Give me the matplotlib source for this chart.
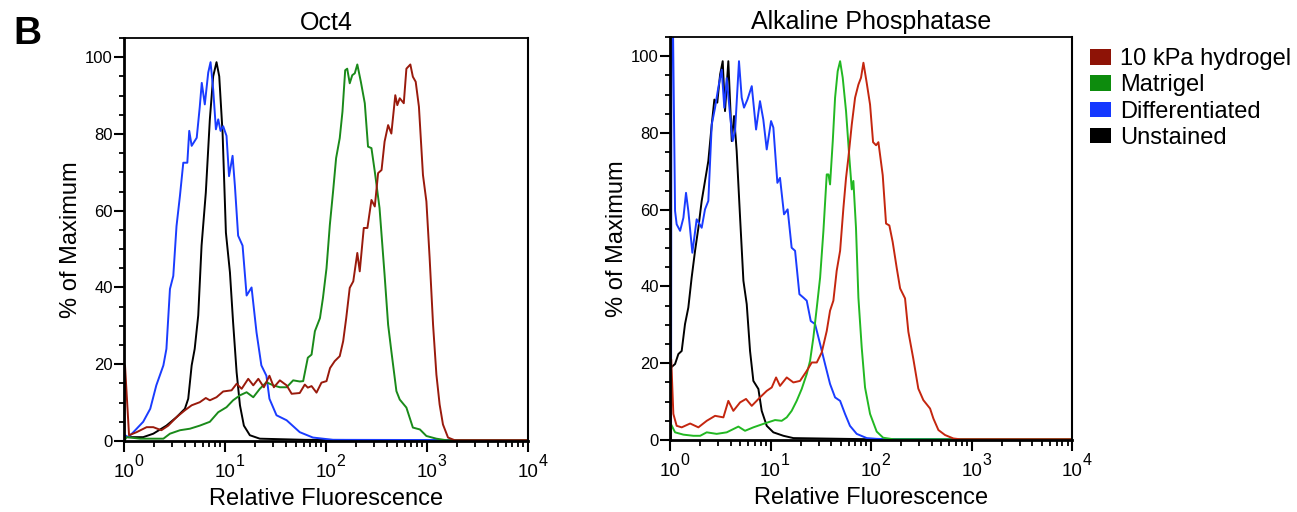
import numpy as np
import matplotlib
matplotlib.use('Agg')
import matplotlib.pyplot as plt
from matplotlib.patches import Patch
from matplotlib.ticker import MultipleLocator, NullFormatter

plt.rcParams['font.family'] = ['Liberation Sans', 'DejaVu Sans']

# histogram traces: x as log10(fluorescence), y as % of max
oct4_red_logx = [0.0, 0.01, 0.05, 0.125, 0.224, 0.29, 0.37, 0.438, 0.52, 0.603, 0.67, 0.75, 0.81, 0.85,
                 0.916, 0.982, 1.065, 1.115, 1.165, 1.23, 1.28, 1.33, 1.385, 1.44, 1.484, 1.543, 1.61,
                 1.66, 1.74, 1.79, 1.82, 1.857, 1.906, 1.955, 2.005, 2.04, 2.086, 2.136, 2.17, 2.2, 2.235,
                 2.27, 2.31, 2.334, 2.374, 2.41, 2.45, 2.483, 2.516, 2.55, 2.58, 2.615, 2.647, 2.686,
                 2.706, 2.73, 2.77, 2.796, 2.835, 2.86, 2.888, 2.92, 2.96, 2.994, 3.026, 3.06, 3.093,
                 3.125, 3.158, 3.208, 3.274, 4.0]
oct4_red_y = [0, 19.7, 1.5, 2.3, 3.6, 3.6, 2.8, 4, 6.2, 8, 9.3, 10.1, 11.2, 10.6,
              11.4, 12.9, 13.2, 14.9, 13.6, 16.2, 14.5, 16.2, 14, 17, 14, 15.8, 14.5,
              12.3, 12.5, 14.7, 13.9, 14.3, 12.6, 15.2, 15.6, 19, 20.8, 22.1, 26, 32, 39.9,
              41.6, 49, 44.2, 55.5, 55.5, 62.8, 61.1, 69.8, 70.6, 78, 82.3, 80.1, 90.1,
              87.5, 89.3, 88, 97, 98.1, 94.9, 93.6, 87.1, 69.3, 62.4, 47.7, 30.3, 17.3,
              9.5, 4.3, 0.9, 0.2, 0.2]

oct4_green_logx = [0.0, 0.027, 0.16, 0.39, 0.455, 0.554, 0.653, 0.75, 0.85, 0.933, 1.015, 1.08, 1.148,
                   1.214, 1.28, 1.345, 1.41, 1.477, 1.543, 1.61, 1.675, 1.741, 1.774, 1.82, 1.857, 1.89,
                   1.94, 1.97, 2.005, 2.038, 2.07, 2.1, 2.136, 2.163, 2.19, 2.21, 2.235, 2.26, 2.285,
                   2.31, 2.345, 2.384, 2.416, 2.45, 2.483, 2.53, 2.58, 2.615, 2.647, 2.697, 2.73, 2.796,
                   2.86, 2.93, 2.994, 3.093, 3.19, 4.0]
oct4_green_y = [0, 1, 0.6, 0.6, 1.9, 2.8, 3.2, 4, 5, 7.5, 8.8, 10.6, 11.9,
                12.7, 11.4, 13.6, 15.3, 14.5, 14, 14, 15.8, 15.5, 15.6, 21.7, 22.5, 28.6,
                32, 37.3, 45, 56.3, 65, 73.7, 78.9, 85.8, 96.6, 97, 93.2, 95.3, 95.8,
                98.1, 93.6, 88, 76.7, 76.3, 70.2, 60.7, 43.3, 30.3, 23.4, 13, 10.8, 8.7,
                3.5, 3, 1.3, 0.6, 0.2, 0.2]

oct4_blue_logx = [0.01, 0.043, 0.093, 0.19, 0.26, 0.32, 0.39, 0.42, 0.455, 0.488, 0.52, 0.554, 0.587,
                  0.627, 0.646, 0.67, 0.72, 0.75, 0.77, 0.80, 0.834, 0.857, 0.883, 0.91, 0.933, 0.956,
                  0.982, 1.015, 1.04, 1.075, 1.098, 1.13, 1.174, 1.214, 1.263, 1.312, 1.36, 1.41, 1.44,
                  1.51, 1.61, 1.74, 1.87, 2.07, 4.0]
oct4_blue_y = [1.5, 1, 2.3, 5, 8.4, 14.5, 19.7, 24, 39.6, 43, 56, 63.9, 72.5,
               72.5, 80.8, 76.9, 79, 87, 93.3, 87.7, 96, 98.7, 91.6, 81.2, 83.8, 80.8,
               82, 79.5, 69, 74.3, 66.5, 53.5, 50.9, 37.9, 40, 28.3, 19.7, 17, 11,
               6.7, 5.4, 2.3, 0.9, 0.3, 0.2]

oct4_black_logx = [0.01, 0.19, 0.29, 0.42, 0.52, 0.603, 0.636, 0.67, 0.70, 0.735, 0.768, 0.81, 0.85,
                   0.883, 0.916, 0.943, 0.976, 1.009, 1.049, 1.08, 1.115, 1.148, 1.187, 1.246, 1.345,
                   1.8, 4.0]
oct4_black_y = [1, 1, 1.9, 4, 6.2, 8.4, 11, 19.7, 24, 32.7, 50.9, 64.7, 83.8,
                95, 98.7, 95, 80.3, 54.3, 43.9, 31, 17.9, 9.3, 4, 1.5, 0.6,
                0.3, 0.1]

ap_red_logx = [0.005, 0.012, 0.033, 0.066, 0.116, 0.2, 0.282, 0.365, 0.448, 0.531, 0.58, 0.63, 0.697,
               0.756, 0.813, 0.895, 0.962, 1.012, 1.055, 1.094, 1.161, 1.227, 1.293, 1.36, 1.41, 1.46,
               1.509, 1.559, 1.592, 1.625, 1.658, 1.692, 1.725, 1.751, 1.774, 1.808, 1.841, 1.874, 1.9,
               1.924, 1.957, 1.99, 2.02, 2.05, 2.073, 2.116, 2.149, 2.182, 2.215, 2.256, 2.289, 2.338,
               2.371, 2.42, 2.47, 2.52, 2.587, 2.62, 2.67, 2.736, 2.819, 2.885, 4.0]
ap_red_y = [0, 21, 6.8, 3.7, 3.3, 4.3, 3.3, 5, 6.3, 5.9, 10.2, 7.6, 9.8,
            10.7, 8.9, 11.1, 12.8, 13.7, 16.3, 14.1, 16.3, 15, 15.4, 18, 20.2, 20.2,
            22.8, 28.4, 33.7, 36.3, 44.1, 49.3, 60.5, 68.3, 73.5, 82.2, 89.2, 92.6, 94.4,
            98.3, 93, 87.4, 77.6, 76.8, 77.6, 69, 56.4, 55.9, 51.6, 44.7, 39.5, 36.9,
            28.2, 21.2, 13.4, 10.4, 8.2, 5.6, 2.6, 1.3, 0.4, 0.2, 0.2]

ap_green_logx = [0.005, 0.012, 0.05, 0.133, 0.232, 0.3, 0.365, 0.464, 0.564, 0.68, 0.746, 0.829, 0.928,
                 1.045, 1.111, 1.161, 1.21, 1.26, 1.31, 1.36, 1.393, 1.426, 1.46, 1.493, 1.526, 1.559,
                 1.576, 1.592, 1.619, 1.642, 1.668, 1.692, 1.718, 1.751, 1.784, 1.808, 1.824, 1.85,
                 1.874, 1.907, 1.94, 1.99, 2.04, 2.056, 2.12, 2.22, 4.0]
ap_green_y = [0, 4, 2, 1.4, 1.1, 1.1, 2, 1.6, 2, 3.5, 2.4, 3.3, 4.2,
              5.2, 5, 5.9, 7.6, 10.2, 13.3, 17.2, 20.6, 26.7, 34.5, 42.3, 54.5, 69.2,
              69.2, 66.6, 77.9, 89.2, 96.1, 98.7, 94.4, 85.7, 73.5, 65.3, 67.5, 55.3,
              37.1, 24.1, 13.7, 6.8, 3.3, 2.2, 0.6, 0.2, 0.2]

ap_blue_logx = [0.01, 0.014, 0.03, 0.05, 0.066, 0.1, 0.133, 0.159, 0.182, 0.222, 0.265, 0.315, 0.348,
                0.381, 0.415, 0.448, 0.48, 0.514, 0.54, 0.564, 0.597, 0.623, 0.647, 0.686, 0.713, 0.736,
                0.77, 0.813, 0.856, 0.895, 0.928, 0.962, 1.005, 1.028, 1.068, 1.094, 1.134, 1.17, 1.21,
                1.244, 1.287, 1.327, 1.36, 1.4, 1.443, 1.493, 1.542, 1.592, 1.642, 1.692, 1.741, 1.79,
                1.857, 1.957, 2.056, 2.2, 4.0]
ap_blue_y = [0, 106, 106, 59.7, 56.2, 54.5, 57.9, 64.4, 59.7, 48.8, 57.5, 55.3, 60.1,
             62.3, 82.2, 86.6, 91.8, 96.5, 86.6, 94.3, 84.8, 77.9, 80.5, 98.7, 89.2, 86.6,
             88.7, 92.2, 80.9, 88.3, 83.5, 75.7, 83.1, 81.4, 67, 68.3, 58.8, 60.1, 50.1,
             49.3, 38, 37.1, 36.3, 31, 30.2, 25, 19.8, 14.6, 11.1, 10.2, 6.8, 3.7,
             1.6, 0.5, 0.3, 0.2, 0.2]

ap_black_logx = [0.01, 0.05, 0.083, 0.116, 0.149, 0.182, 0.215, 0.249, 0.282, 0.315, 0.348, 0.381, 0.415,
                 0.441, 0.47, 0.498, 0.524, 0.547, 0.58, 0.614, 0.637, 0.663, 0.697, 0.73, 0.763, 0.796,
                 0.829, 0.879, 0.912, 0.962, 1.028, 1.128, 1.227, 2.0, 4.0]
ap_black_y = [18.9, 19.8, 22.4, 23.2, 30.2, 34.5, 42.3, 49.3, 55.3, 62.3, 67.5, 72.7, 82.2,
              88.7, 87.9, 95.2, 98.7, 85.7, 98.7, 77.9, 84.4, 75.3, 57.9, 41.5, 35.4, 23.2,
              15.4, 13.3, 7.6, 3.7, 2, 1.1, 0.5, 0.2, 0.1]

labels = ['10 kPa hydrogel', 'Matrigel', 'Differentiated', 'Unstained']
legend_colors = ['#8e1306', '#0d8c0d', '#1438ff', '#000000']
decades = [0, 1, 2, 3, 4]

fig = plt.figure(figsize=(12.97, 5.12), dpi=100)
ax1 = fig.add_axes([0.0956, 0.1387, 0.3115, 0.7871])
ax2 = fig.add_axes([0.5166, 0.1406, 0.3100, 0.7871])

panels = [
    (ax1, 'Oct4',
     [(oct4_black_logx, oct4_black_y, '#000000'),
      (oct4_blue_logx, oct4_blue_y, '#1a3cff'),
      (oct4_green_logx, oct4_green_y, '#1a8a1a'),
      (oct4_red_logx, oct4_red_y, '#991a0c')]),
    (ax2, 'Alkaline Phosphatase',
     [(ap_black_logx, ap_black_y, '#000000'),
      (ap_blue_logx, ap_blue_y, '#1a3cff'),
      (ap_green_logx, ap_green_y, '#22b822'),
      (ap_red_logx, ap_red_y, '#c4260f')]),
]

for ax, title, traces in panels:
    for lx, y, c in traces:
        ax.plot(10 ** np.array(lx), y, color=c, lw=1.4)
    ax.set_xscale('log')
    ax.set_xlim(1, 1e4)
    ax.set_ylim(0, 105)
    ax.set_xticks([10.0 ** d for d in decades])
    ax.set_xticklabels(['10'] * len(decades))
    ax.xaxis.set_minor_formatter(NullFormatter())
    ax.yaxis.set_major_locator(MultipleLocator(20))
    ax.yaxis.set_minor_locator(MultipleLocator(5))
    ax.tick_params(axis='both', which='major', direction='out', width=1.5, color='black')
    ax.tick_params(axis='both', which='minor', direction='out', width=1.3)
    ax.tick_params(axis='x', which='major', length=8, labelsize=13.5, pad=8.5)
    ax.tick_params(axis='x', which='minor', length=4.5)
    ax.tick_params(axis='y', which='major', length=7, labelsize=12, pad=1)
    ax.tick_params(axis='y', which='minor', length=3.5)
    for d in decades:
        ax.annotate(str(d), xy=(10.0 ** d, 0), xycoords=('data', 'axes fraction'),
                    xytext=(7.5, -14.5), textcoords='offset points',
                    ha='left', va='center', fontsize=11.5, annotation_clip=False)
    ax.spines['left'].set_linewidth(2.0)
    ax.spines['bottom'].set_linewidth(2.0)
    ax.spines['top'].set_linewidth(1.3)
    ax.spines['right'].set_linewidth(1.5)
    ax.set_title(title, fontsize=18, pad=6)
    ax.set_xlabel('Relative Fluorescence', fontsize=17)
    ax.set_ylabel('% of Maximum', fontsize=17)
    ax.xaxis.set_label_coords(0.5, -0.117)
    ax.yaxis.set_label_coords(-0.105, 0.5)

handles = [Patch(facecolor=c, edgecolor='none') for c in legend_colors]
fig.legend(handles, labels, loc='upper left', bbox_to_anchor=(0.8404, 0.906),
           frameon=False, fontsize=17, handlelength=0.89, handleheight=0.64,
           handletextpad=0.4, labelspacing=0.18, borderpad=0, borderaxespad=0)

fig.text(0.010, 0.914, 'B', fontsize=28, fontweight='bold', ha='left', va='baseline')

fig.savefig('out.png', dpi=100)
